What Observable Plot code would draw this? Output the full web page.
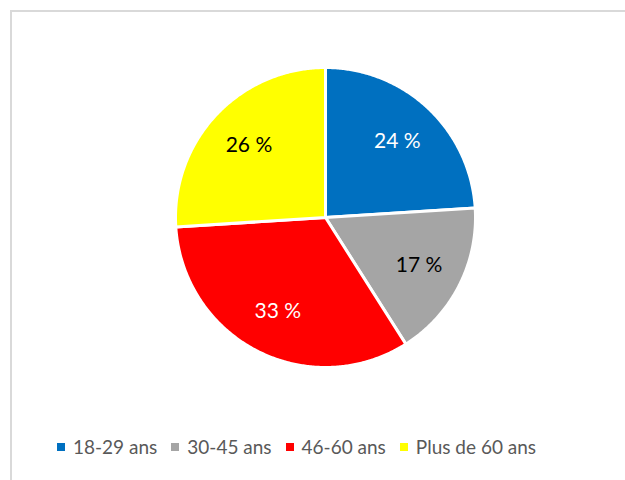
<!DOCTYPE html>
<html><head><meta charset="utf-8">
<script src="https://cdn.jsdelivr.net/npm/d3@7"></script>
<script src="https://cdn.jsdelivr.net/npm/@observablehq/plot@0.6"></script>
<style>
html,body{margin:0;padding:0;background:#fff;width:625px;height:480px;overflow:hidden;font-family:Lato,sans-serif;}
#frame{position:absolute;left:10px;top:10px;width:700px;height:600px;border-left:2px solid #d9d9d9;border-top:2px solid #d9d9d9;}
#chart{position:absolute;left:0;top:0;}
#legend{position:absolute;left:57px;top:433px;display:flex;align-items:center;font-size:19px;line-height:28px;color:#595959;white-space:nowrap;}
.item{display:flex;align-items:center;margin-right:14px}
.sw{width:8px;height:8px;margin-right:8px}
</style></head><body>
<div id="frame"></div><div id="chart"></div><div id="legend"></div>
<script>
const categories = ["18-29 ans","30-45 ans","46-60 ans","Plus de 60 ans"];
const values = [24, 17, 33, 26];
const colors = ["#0070C0","#A5A5A5","#FF0000","#FFFF00"];
const labelColors = ["#ffffff","#000000","#ffffff","#000000"];

const arcs = d3.pie().sort(null).value(d => d)(values);
const poly = [];
arcs.forEach((a, i) => {
  const cat = categories[i];
  poly.push({cat, x: 0, y: 0});
  const n = Math.max(2, Math.ceil((a.endAngle - a.startAngle) / (Math.PI / 360)));
  for (let k = 0; k <= n; k++) {
    const t = a.startAngle + (a.endAngle - a.startAngle) * k / n;
    poly.push({cat, x: Math.sin(t), y: Math.cos(t)});
  }
  poly.push({cat, x: 0, y: 0});
});
const labels = arcs.map((a, i) => {
  const m = (a.startAngle + a.endAngle) / 2;
  return {text: values[i] + " %", x: 0.7 * Math.sin(m), y: 0.7 * Math.cos(m), color: labelColors[i]};
});

const chart = Plot.plot({
  width: 625, height: 420,
  margin: 0,
  x: {domain: [-1, 1], range: [175, 475], axis: null},
  y: {domain: [-1, 1], range: [367, 67], axis: null},
  color: {domain: categories, range: colors},
  style: {fontFamily: "Lato, sans-serif", background: "transparent"},
  marks: [
    Plot.line(poly, {x: "x", y: "y", z: "cat", fill: "cat", stroke: "white", strokeWidth: 3, strokeLinejoin: "round"}),
    Plot.text(labels.filter(d => d.color === "#ffffff"), {x: "x", y: "y", text: "text", fill: "#ffffff", fontSize: 21}),
    Plot.text(labels.filter(d => d.color === "#000000"), {x: "x", y: "y", text: "text", fill: "#000000", fontSize: 21})
  ]
});
document.getElementById("chart").appendChild(chart);

const leg = document.getElementById("legend");
categories.forEach((c, i) => {
  const it = document.createElement("div"); it.className = "item";
  const sw = document.createElement("span"); sw.className = "sw"; sw.style.background = colors[i];
  const tx = document.createElement("span"); tx.textContent = c;
  it.appendChild(sw); it.appendChild(tx); leg.appendChild(it);
});
</script>
</body></html>
